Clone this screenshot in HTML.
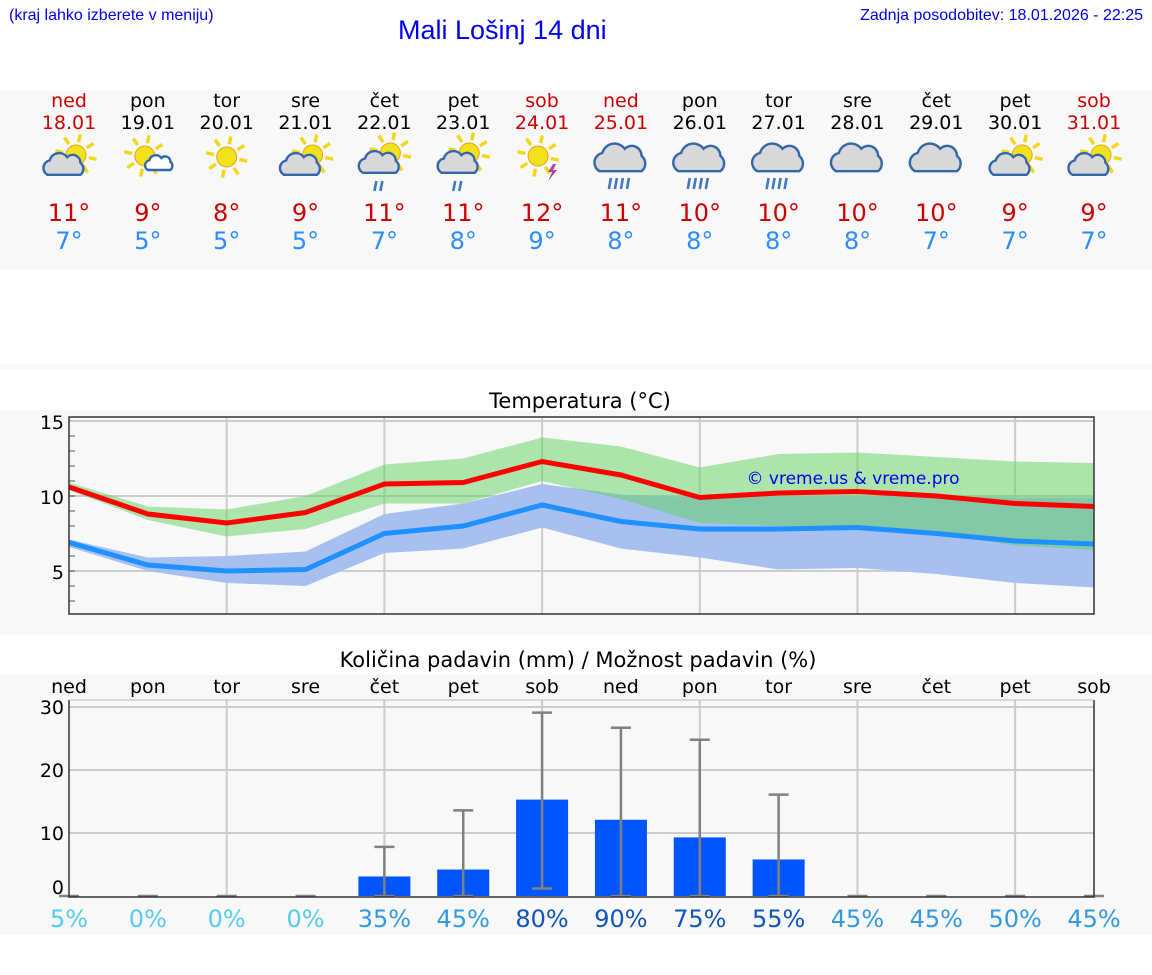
<!DOCTYPE html>
<html><head><meta charset="utf-8"><style>
body{margin:0;width:1152px;height:975px;background:#fff;font-family:"DejaVu Sans","Liberation Sans",sans-serif;position:relative;overflow:hidden}
.abs{position:absolute}
</style></head><body>
<div class="abs" style="left:9px;top:7px;font:16px 'Liberation Sans',sans-serif;color:#0000ee">(kraj lahko izberete v meniju)</div>
<div class="abs" style="left:398px;top:15px;font:27px 'Liberation Sans',sans-serif;color:#0000ee">Mali Lošinj 14 dni</div>
<div class="abs" style="right:9px;top:7px;font:16px 'Liberation Sans',sans-serif;color:#0000ee">Zadnja posodobitev: 18.01.2026 - 22:25</div>
<div class="abs" style="left:0;top:90px;width:1152px;height:180px;background:#f8f8f8"></div>
<div class="abs" style="left:0;top:364px;width:1152px;height:5px;background:#f8f8f8"></div>
<div class="abs" style="left:0;top:410px;width:1152px;height:225px;background:#f8f8f8"></div>
<div class="abs" style="left:0;top:675px;width:1152px;height:260px;background:#f8f8f8"></div>
<svg id="s" class="abs" style="left:0;top:0" width="1152" height="975"></svg>
<script>
const days=["ned","pon","tor","sre","čet","pet","sob","ned","pon","tor","sre","čet","pet","sob"];
const dates=["18.01","19.01","20.01","21.01","22.01","23.01","24.01","25.01","26.01","27.01","28.01","29.01","30.01","31.01"];
const icons=["pc","ps","s","pc","pcr","pcr","st","cr","cr","cr","c","c","pc","pc"];
const tmax=[10.6,8.8,8.2,8.9,10.8,10.9,12.3,11.4,9.9,10.2,10.3,10.0,9.5,9.3];
const tmaxHi=[10.9,9.3,9.1,10.0,12.1,12.5,13.9,13.3,11.9,12.8,12.9,12.6,12.3,12.2];
const tmaxLo=[10.4,8.4,7.3,7.8,9.5,9.5,11.0,9.8,8.2,8.0,7.9,7.5,6.7,6.4];
const tmin=[6.9,5.4,5.0,5.1,7.5,8.0,9.4,8.3,7.8,7.8,7.9,7.5,7.0,6.8];
const tminHi=[7.1,5.9,6.0,6.3,8.8,9.5,10.8,10.1,9.9,10.0,10.0,10.0,9.9,9.9];
const tminLo=[6.6,5.0,4.2,4.0,6.2,6.5,7.9,6.5,5.9,5.1,5.2,4.8,4.2,3.9];
const maxLbl=[11,9,8,9,11,11,12,11,10,10,10,10,9,9];
const minLbl=[7,5,5,5,7,8,9,8,8,8,8,7,7,7];
const rain=[0,0,0,0,3.1,4.2,15.3,12.1,9.3,5.8,0,0,0,0];
const rainHi=[0,0,0,0,7.8,13.6,29.1,26.7,24.8,16.1,0,0,0,0];
const rainLo=[0,0,0,0,0,0,1.2,0,0,0,0,0,0,0];
const prob=[5,0,0,0,35,45,80,90,75,55,45,45,50,45];
const tTicks=[5,10,15];
const rTicks=[0,10,20,30];

const S=document.getElementById('s'),NS="http://www.w3.org/2000/svg";
function el(t,a,txt){const e=document.createElementNS(NS,t);for(const k in a)e.setAttribute(k,a[k]);if(txt!==undefined)e.textContent=txt;S.appendChild(e);return e;}
const X=i=>69+i*(1025/13);
const TY=v=>571-(v-5)*15;
const RY=v=>896-v*6.3;
const red=i=>(i==0||i==6||i==7||i==13);

days.forEach((d,i)=>{
 let t=el('text',{x:X(i),y:107,'text-anchor':'middle','font-size':19,fill:red(i)?'#cc0000':'#000'},d);
 
 t=el('text',{x:X(i),y:129,'text-anchor':'middle','font-size':19,fill:red(i)?'#cc0000':'#000'},dates[i]);
 
 t=el('text',{x:X(i),y:221,'text-anchor':'middle','font-size':24,fill:'#cc0000'},maxLbl[i]+'°');
 
 t=el('text',{x:X(i),y:249,'text-anchor':'middle','font-size':24,fill:'#2a8cff'},minLbl[i]+'°');
 
 const g=el('g',{transform:`translate(${X(i)},160)`});
 
 const ic=icons[i];
 let h='';
 const sun=(cx,cy,r)=>{let s='';for(let k=0;k<8;k++){const a=k*Math.PI/4+0.2;s+=`<line x1="${cx+Math.cos(a)*(r+3)}" y1="${cy+Math.sin(a)*(r+3)}" x2="${cx+Math.cos(a)*(r+11)}" y2="${cy+Math.sin(a)*(r+11)}" stroke="#f0d820" stroke-width="3.5"/>`;}return s+`<circle cx="${cx}" cy="${cy}" r="${r}" fill="#f2e21a" stroke="#e8a020" stroke-width="1"/>`;};
 const cloud=(cx,cy,sc,fill)=>`<path transform="translate(${cx},${cy}) scale(${sc})" d="M-16,8 a7,7 0 0 1 2,-13 a9,9 0 0 1 16,-3 a7,7 0 0 1 12,5 a7,7 0 0 1 0,11 z" fill="${fill}" stroke="#3366aa" stroke-width="${2.4/sc}"/>`;
 if(ic=='s')h=sun(0,-3,10);
 if(ic=='pc')h=sun(7,-5,10)+cloud(-4,6,1.1,'#d8d8d8');
 if(ic=='ps')h=sun(-3,-4,10)+cloud(12,4,0.75,'#fff');
 if(ic=='pcr')h=sun(6,-7,10)+cloud(-4,4,1.1,'#d8d8d8')+'<path d="M-8,21 l-2,10 M-2,21 l-2,10" stroke="#4477bb" stroke-width="2.6"/>';
 if(ic=='st')h=sun(-4,-4,10)+'<path d="M11,4 l-5,8 h4 l-4,9 l9,-11 h-4 l3,-6z" fill="#aa44aa"/>';
 if(ic=='cr'||ic=='c'){h=cloud(1,0,1.4,'#d8d8d8');if(ic=='cr')h+='<path d="M-10,18 l-2,11 M-4,18 l-2,11 M2,18 l-2,11 M8,18 l-2,11" stroke="#4477bb" stroke-width="2.6"/>';}
 g.innerHTML=h;
});

let t=el('text',{x:580,y:408,'text-anchor':'middle','font-size':21,fill:'#000'},'Temperatura (°C)');

el('rect',{x:69,y:417,width:1025,height:197,fill:'#f8f8f8'});
tTicks.forEach(v=>{el('line',{x1:69,x2:1094,y1:TY(v),y2:TY(v),stroke:'#ccc','stroke-width':2});
 const l=el('text',{x:64,y:TY(v)+8,'text-anchor':'end','font-size':19},v);});
for(let v=3;v<=14;v++)el('line',{x1:69,x2:75,y1:TY(v),y2:TY(v),stroke:'#555'});
[2,4,6,8,10,12].forEach(i=>el('line',{x1:X(i),x2:X(i),y1:417,y2:614,stroke:'#ccc','stroke-width':2}));
function band(hi,lo,fill,op,name){const p=hi.map((v,i)=>X(i)+','+TY(v)).concat(lo.map((v,i)=>X(i)+','+TY(v)).reverse());const e=el('polygon',{points:p.join(' '),fill,'fill-opacity':op});}
function line(a,c,name,f){const e=el('polyline',{points:a.map((v,i)=>X(i)+','+f(v)).join(' '),fill:'none',stroke:c,'stroke-width':5});}
band(tminHi,tminLo,'#a8c0f0',1,'min-temp-range');
band(tmaxHi,tmaxLo,'#5ed25e',0.5,'max-temp-range');
line(tmin,'#1e90ff','min-temp-line',TY);
line(tmax,'#ff0000','max-temp-line',TY);
el('rect',{x:69,y:417,width:1025,height:197,fill:'none',stroke:'#333','stroke-width':1.5});
t=el('text',{x:853,y:484,'text-anchor':'middle','font-size':17,fill:'#0000ee'},'© vreme.us & vreme.pro');


t=el('text',{x:578,y:667,'text-anchor':'middle','font-size':21},'Količina padavin (mm) / Možnost padavin (%)');

days.forEach((d,i)=>{const l=el('text',{x:X(i),y:693,'text-anchor':'middle','font-size':19},d);});
rTicks.forEach(v=>{if(v)el('line',{x1:69,x2:1094,y1:RY(v),y2:RY(v),stroke:'#ccc','stroke-width':2});
 const l=el('text',{x:64,y:RY(v)+(v?7:-2),'text-anchor':'end','font-size':19},v);});
[2,4,6,8,10,12].forEach(i=>el('line',{x1:X(i),x2:X(i),y1:700,y2:897,stroke:'#ccc','stroke-width':2}));
rain.forEach((v,i)=>{
 if(v>0){const b=el('rect',{x:X(i)-26,y:RY(v),width:52,height:RY(0)-RY(v),fill:'#0055ff'});}
 const e=el('path',{d:`M${X(i)},${RY(rainHi[i])} V${RY(rainLo[i])} M${X(i)-10},${RY(rainHi[i])} h20 M${X(i)-10},${RY(rainLo[i])} h20`,stroke:'#808080','stroke-width':2.5,fill:'none'});
 
 const c=prob[i]<30?'#55ccee':prob[i]<=50?'#3399dd':'#1155bb';
 const p=el('text',{x:X(i),y:927,'text-anchor':'middle','font-size':24,fill:c},prob[i]+'%');
});
el('path',{d:'M69,700 V897 H1094 V700',fill:'none',stroke:'#333','stroke-width':1.5});
el('line',{x1:69,x2:1094,y1:700,y2:700,stroke:'#bbb'});
</script>
</body></html>
